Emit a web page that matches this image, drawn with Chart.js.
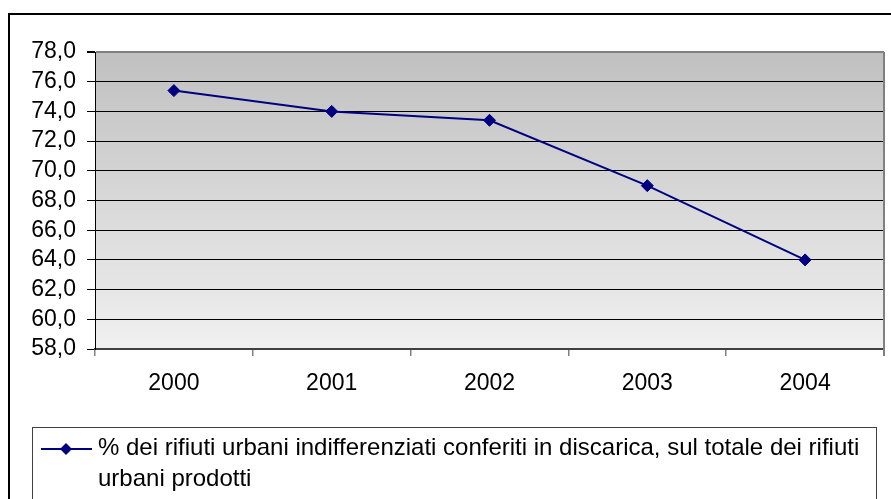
<!DOCTYPE html>
<html>
<head>
<meta charset="utf-8">
<script src="https://cdn.jsdelivr.net/npm/chart.js@4/dist/chart.umd.min.js"></script>
<style>
  body { margin: 0; background: #fff; }
  #chart { display: block; }
</style>
</head>
<body>
<canvas id="chart" width="891" height="499"></canvas>
<script>
/* global Chart */

const years = ['2000', '2001', '2002', '2003', '2004']
const landfillShare = [75.4, 74.0, 73.4, 69.0, 64.0]
const seriesLabel = '% dei rifiuti urbani indifferenziati conferiti in discarica, sul totale dei rifiuti urbani prodotti'
const yMin = 58
const yMax = 78
const yStep = 2

Chart.defaults.font.family = '"Liberation Sans", Arial, sans-serif'
Chart.defaults.color = '#000'

// gradient behind the plot, like the old excel chart
const plotBackground = {
  id: 'plotBackground',
  beforeDraw (chart) {
    const { ctx, chartArea: a } = chart
    const g = ctx.createLinearGradient(0, a.top, 0, a.bottom)
    g.addColorStop(0, '#c0c0c0')
    g.addColorStop(1, '#f0f0f0')
    ctx.save()
    ctx.fillStyle = g
    ctx.fillRect(a.left, a.top, a.right - a.left, a.bottom - a.top)
    ctx.restore()
  },
  beforeDatasetsDraw (chart) {
    const { ctx, chartArea: a } = chart
    ctx.save()
    ctx.strokeStyle = '#808080'
    ctx.lineWidth = 2
    ctx.beginPath()
    ctx.moveTo(a.right, a.top)
    ctx.lineTo(a.right, a.bottom + 7)
    ctx.stroke()
    ctx.restore()
  }
}

// frame + wrapped legend box
const frameLegend = {
  id: 'frameLegend',
  afterDraw (chart) {
    const ctx = chart.ctx
    const ds = chart.data.datasets[0]
    ctx.save()
    ctx.strokeStyle = '#000'
    ctx.lineWidth = 2
    ctx.strokeRect(9, 14, 900, 600)

    ctx.strokeStyle = '#404040'
    ctx.lineWidth = 1
    ctx.strokeRect(32.5, 427.5, 844, 200)

    // marker
    ctx.strokeStyle = ds.borderColor
    ctx.lineWidth = 2
    ctx.beginPath()
    ctx.moveTo(41, 449)
    ctx.lineTo(92, 449)
    ctx.stroke()
    ctx.fillStyle = ds.borderColor
    ctx.beginPath()
    ctx.moveTo(66 - 6, 449)
    ctx.lineTo(66, 449 - 6)
    ctx.lineTo(66 + 6, 449)
    ctx.lineTo(66, 449 + 6)
    ctx.closePath()
    ctx.fill()

    // text wrapping
    ctx.font = '24px "Liberation Sans", Arial, sans-serif'
    ctx.fillStyle = '#000'
    ctx.textBaseline = 'alphabetic'
    const maxW = 772
    const words = ds.label.split(' ')
    const lines = []
    let cur = ''
    words.forEach(w => {
      const test = cur ? cur + ' ' + w : w
      if (ctx.measureText(test).width > maxW && cur) {
        lines.push(cur)
        cur = w
      } else {
        cur = test
      }
    })
    if (cur) lines.push(cur)
    lines.forEach((l, i) => {
      ctx.fillText(l, 98, 455 + i * 31)
    })
    ctx.restore()
  }
}

const config = {
  type: 'line',
  data: {
    labels: years,
    datasets: [{
      label: seriesLabel,
      data: landfillShare,
      borderColor: '#000080',
      backgroundColor: '#000080',
      borderWidth: 2,
      pointStyle: 'rectRot',
      pointRadius: 6,
      pointHoverRadius: 6,
      pointBorderWidth: 1,
      tension: 0
    }]
  },
  options: {
    responsive: false,
    animation: false,
    layout: { padding: { left: 0, top: 52, right: 7, bottom: 90 } },
    plugins: {
      legend: { display: false },
      tooltip: { enabled: false }
    },
    scales: {
      x: {
        offset: true,
        afterFit: scale => { scale.height = 60 },
        grid: {
          offset: true,
          drawOnChartArea: false,
          tickLength: 7,
          color: '#808080',
          lineWidth: 1.5
        },
        border: { color: '#404040', width: 2 },
        ticks: { font: { size: 23 }, padding: 14, maxRotation: 0 }
      },
      y: {
        min: yMin,
        max: yMax,
        afterFit: scale => { scale.width = 95 },
        grid: {
          color: c => (c.tick && c.tick.value === yMax) ? '#808080' : '#000',
          lineWidth: c => (c.tick && c.tick.value === yMax) ? 2 : 1,
          tickColor: '#000',
          tickLength: 8
        },
        border: { color: '#000', width: 1 },
        ticks: {
          stepSize: yStep,
          autoSkip: false,
          font: { size: 23 },
          padding: 11,
          callback: v => v.toFixed(1).replace('.', ',')
        }
      }
    }
  },
  plugins: [plotBackground, frameLegend]
}

const lineChart = new Chart(document.getElementById('chart'), config)
</script>
</body>
</html>
